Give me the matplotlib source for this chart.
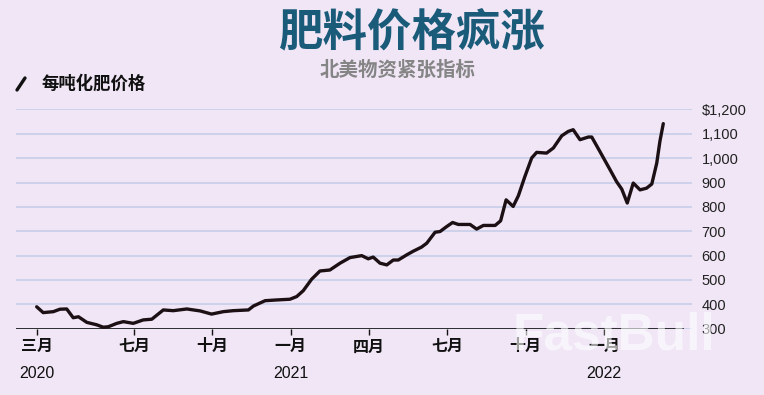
import matplotlib
matplotlib.use("Agg")
import matplotlib.pyplot as plt
import matplotlib.transforms as mtransforms

# ---- data (x in months since Jan 2020, y in USD per ton) ----
months = [2.27, 2.52, 2.91, 3.16, 3.42, 3.67, 3.87, 4.19, 4.57, 4.82, 5.01, 5.34, 5.59,
          5.97, 6.35, 6.68, 7.12, 7.50, 8.02, 8.53, 8.97, 9.42, 9.80, 10.38, 10.57,
          11.02, 11.46, 11.97, 12.23, 12.48, 12.80, 13.12, 13.50, 13.89, 14.27, 14.72,
          14.97, 15.16, 15.42, 15.68, 15.93, 16.12, 16.44, 16.69, 17.01, 17.21, 17.53,
          17.72, 17.97, 18.20, 18.42, 18.87, 19.12, 19.38, 19.83, 20.04, 20.25, 20.52,
          20.72, 20.97, 21.23, 21.42, 21.80, 22.06, 22.38, 22.63, 22.82, 23.08, 23.40,
          23.53, 23.84, 24.23, 24.48, 24.68, 24.89, 25.12, 25.38, 25.63, 25.83, 26.02,
          26.14, 26.27]
prices = [390, 366, 370, 380, 381, 345, 349, 326, 316, 306, 308, 322, 329,
          322, 336, 339, 377, 374, 381, 373, 360, 370, 374, 377, 393,
          415, 418, 421, 432, 456, 503, 537, 541, 569, 592, 600,
          587, 594, 569, 562, 582, 582, 603, 618, 635, 651, 696,
          699, 719, 736, 728, 728, 709, 724, 724, 743, 829, 802,
          846, 925, 1001, 1024, 1021, 1042, 1092, 1110, 1117, 1076, 1087,
          1087, 1028, 953, 904, 873, 816, 898, 870, 877, 894, 980,
          1069, 1142]

xtick_pos = [2.27, 6, 9, 12, 15, 18, 21, 24]
xtick_labels = ["三月", "七月", "十月", "一月", "四月", "七月", "十月", "一月"]
year_pos = [2.27, 12, 24]
year_labels = ["2020", "2021", "2022"]
ytick_vals = [300, 400, 500, 600, 700, 800, 900, 1000, 1100, 1200]
ytick_labels = ["300", "400", "500", "600", "700", "800", "900", "1,000", "1,100", "$1,200"]

title = "肥料价格疯涨"
subtitle = "北美物资紧张指标"
legend_label = "每吨化肥价格"

BG = "#f0e6f6"
CJK = ["Noto Sans CJK SC", "DejaVu Sans"]
LAT = ["Liberation Sans", "DejaVu Sans"]

fig = plt.figure(figsize=(7.64, 3.95), dpi=100, facecolor=BG)
ax = fig.add_axes([16 / 764, 66.3 / 395, 676 / 764, 219.2 / 395])
ax.set_facecolor(BG)

ax.set_xlim(1.478, 27.37)
ax.set_ylim(300, 1200)

for v in ytick_vals:
    ax.axhline(v, color="#c6cde8", lw=1.2, zorder=1)
ax.axhline(300, xmin=0, xmax=0.987, color="#111111", lw=1.2, zorder=2)

ax.plot(months, prices, color="#1c1014", lw=2.4, zorder=3,
        solid_joinstyle="round", solid_capstyle="round")

for s in ax.spines.values():
    s.set_visible(False)

ax.yaxis.tick_right()
ax.set_yticks(ytick_vals)
ax.set_yticklabels(ytick_labels, fontfamily=LAT, fontsize=10.5, color="#222222")
ax.tick_params(axis="y", length=0, pad=7)

ax.set_xticks(xtick_pos)
ax.set_xticklabels(xtick_labels, fontfamily=CJK, fontweight="heavy", fontsize=11.5, color="#111111")
ax.tick_params(axis="x", length=4.5, width=1, color="#111111", pad=2.5, direction="out")

trans = mtransforms.blended_transform_factory(ax.transData, fig.transFigure)
for xp, lab in zip(year_pos, year_labels):
    fig.text(xp, 1 - 373 / 395, lab, transform=trans, ha="center", va="center",
             fontfamily=LAT, fontsize=11.5, color="#111111")

fig.text(412 / 764, 1 - 32 / 395, title, ha="center", va="center",
         fontfamily=CJK, fontweight="heavy", fontsize=32, color="#1b5b7a")
fig.text(398 / 764, 1 - 70 / 395, subtitle, ha="center", va="center",
         fontfamily=CJK, fontweight="heavy", fontsize=14, color="#858585")

# legend
fig.lines.append(plt.Line2D([17 / 764, 25 / 764], [1 - 90 / 395, 1 - 78 / 395],
                            transform=fig.transFigure, color="#111111", lw=2.4,
                            solid_capstyle="round"))
fig.text(42 / 764, 1 - 84 / 395, legend_label, ha="left", va="center",
         fontfamily=CJK, fontweight="heavy", fontsize=12.5, color="#111111")

# watermark
fig.text(614 / 764, 1 - 336 / 395, "FastBull", ha="center", va="center",
         fontfamily=LAT, fontweight="bold", fontsize=37, color="white", alpha=0.6,
         zorder=10)

fig.savefig("out.png", dpi=100, facecolor=BG)
